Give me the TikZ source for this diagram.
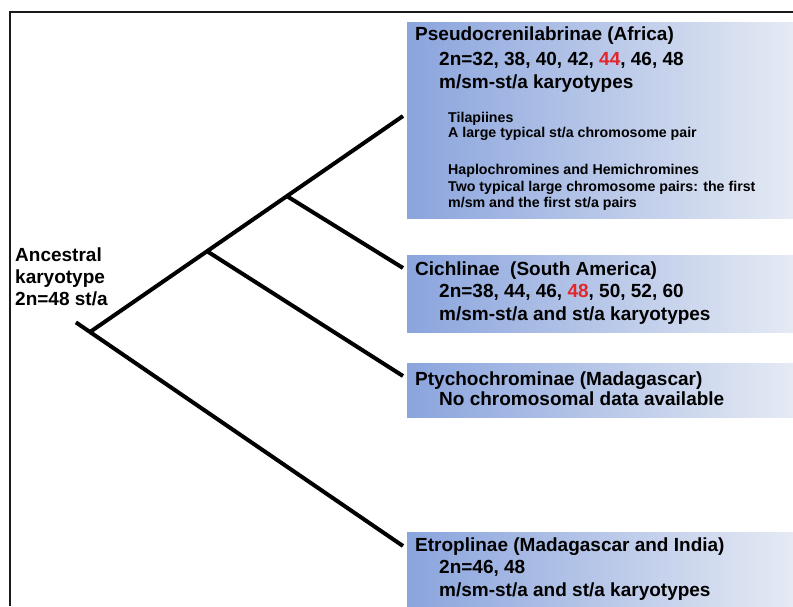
\documentclass[tikz,border=0pt]{standalone}
\usepackage{fontspec}
\setmainfont{Liberation Sans}
\usetikzlibrary{calc}
\definecolor{cladeleft}{HTML}{8AA4DD}
\definecolor{claderight}{HTML}{E5EAF4}
\definecolor{karyored}{HTML}{E3262B}
\tikzset{
  every node/.style={text=black, inner sep=0pt},
  clade/.style={rectangle, draw=none, anchor=north west,
    left color=cladeleft, right color=claderight, minimum width=386pt},
  cladetitle/.style={font=\fontsize{19}{23}\selectfont\bfseries, anchor=base west},
  cladeline/.style={cladetitle},
  subnote/.style={font=\fontsize{14.2}{16}\selectfont\bfseries, anchor=base west},
  branch/.style={line width=4pt, draw=black},
  frame/.style={line width=1.5pt, draw=black!90},
}
\newcommand{\hl}[1]{\textcolor{karyored}{#1}}

\begin{document}
\begin{tikzpicture}[x=1pt,y=-1pt]
\useasboundingbox (0,0) rectangle (793,606);

% ---- Frame -----------------------------------------------------------------
\draw[frame] (793,12) -- (10,12) -- (10,606);

% ---- Subfamily boxes -------------------------------------------------------
\node[clade, minimum height=196pt] (pse) at (407,22) {};
\node[clade, minimum height=77pt] (cic) at (407,255) {};
\node[clade, minimum height=54pt] (pty) at (407,363) {};
\node[clade, minimum height=74pt] (etr) at (407,532) {};

\node[cladetitle] (pse-t) at (415,40.5) {Pseudocrenilabrinae (Africa)};
\node[cladeline] (pse-a) at (439,65) {2n=32, 38, 40, 42, \hl{44}, 46, 48};
\node[cladeline] (pse-b) at (439,88) {m/sm-st/a karyotypes};
\node[subnote] (til-a) at (448,122) {Tilapiines};
\node[subnote] (til-b) at (448,137) {A large typical st/a chromosome pair};
\node[subnote] (hap-a) at (448,174) {Haplochromines and Hemichromines};
\node[subnote] (hap-b) at (448,191) {Two typical large chromosome pairs: the first};
\node[subnote] (hap-c) at (448,207) {m/sm and the first st/a pairs};

\node[cladetitle] (cic-t) at (415,275) {Cichlinae\ \ (South America)};
\node[cladeline] (cic-a) at (439,297) {2n=38, 44, 46, \hl{48}, 50, 52, 60};
\node[cladeline] (cic-b) at (439,320) {m/sm-st/a and st/a karyotypes};

\node[cladetitle] (pty-t) at (415,385) {Ptychochrominae (Madagascar)};
\node[cladeline] (pty-a) at (439,405) {No chromosomal data available};

\node[cladetitle] (etr-t) at (415,551) {Etroplinae (Madagascar and India)};
\node[cladeline] (etr-a) at (439,573) {2n=46, 48};
\node[cladeline] (etr-b) at (439,596) {m/sm-st/a and st/a karyotypes};

% ---- Ancestor --------------------------------------------------------------
\node[cladetitle] (anc-a) at (15,261) {Ancestral};
\node[cladetitle] (anc-b) at (15,283) {karyotype};
\node[cladetitle] (anc-c) at (15,305) {2n=48 st/a};

% ---- Tree ------------------------------------------------------------------
\coordinate (root) at (90,332);
\coordinate (pse-end) at (403,116);
\coordinate (cic-end) at (403,268);
\coordinate (pty-end) at (403,376);
\coordinate (etr-end) at (403,546);
\coordinate (stub) at ($(root)!-0.045!(etr-end)$);
\coordinate (n1) at ($(root)!0.374!(pse-end)$);
\coordinate (n2) at ($(root)!0.629!(pse-end)$);

\draw[branch] (stub) -- (etr-end);
\draw[branch] (root) -- (pse-end);
\draw[branch] (n2) -- (cic-end);
\draw[branch] (n1) -- (pty-end);

\end{tikzpicture}
\end{document}
